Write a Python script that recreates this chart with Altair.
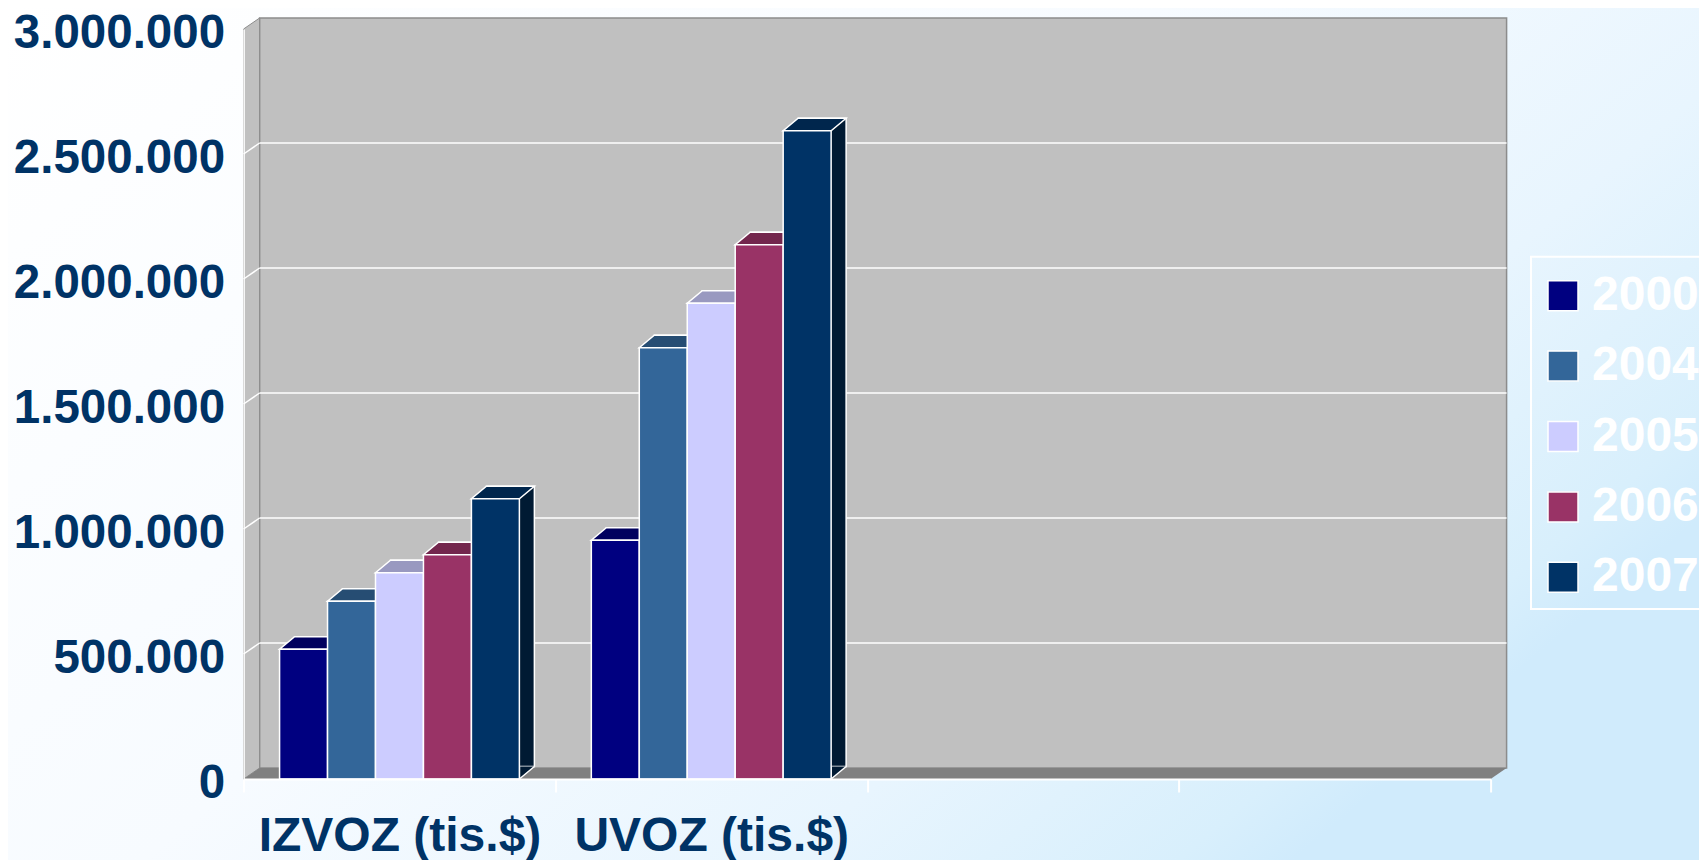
import json
import altair as alt
import pandas as pd

# ---------------- data ----------------
categories = ["IZVOZ (tis.$)", "UVOZ (tis.$)"]
n_slots = 4                      # two empty category slots on the right
years = ["2000.", "2004.", "2005.", "2006.", "2007."]
izvoz = [519000, 711000, 825000, 897000, 1121000]
uvoz = [955000, 1725000, 1903000, 2137000, 2593000]
y_ticks = [0, 500000, 1000000, 1500000, 2000000, 2500000, 3000000]
grid_values = [500000, 1000000, 1500000, 2000000, 2500000]

front_colors = ["#000080", "#336699", "#CCCCFF", "#993366", "#003366"]
top_colors = ["#00005E", "#264D73", "#9999C0", "#73264D", "#00264D"]
side_colors = ["#00004D", "#1A3A59", "#80809F", "#5A1E3D", "#001A33"]

rows = []
for cat, vals in zip(categories, [izvoz, uvoz]):
    for i, (yr, v) in enumerate(zip(years, vals)):
        rows.append({"cat": cat, "year": yr, "value": v,
                     "top": top_colors[i], "side": side_colors[i]})
df = pd.DataFrame(rows)
grid_df = pd.DataFrame({"value": grid_values})
one = pd.DataFrame({"k": [0]})

# ---------------- layout ----------------
FONT = "Liberation Sans"
TEXT = "#003366"
W, H = 1247, 750
PAD_L, PAD_T, PAD_B = 235.6, 21, 81
PAD_R = 1691 - PAD_L - W          # keep the whole svg inside the page body
WALL_DX, WALL_DY = 16, -11
BAR_DX, BAR_DY = 15, -12.5
GROUP = 6.5        # slot units per category (5 bars + gap)
EDGE = 0.75        # gap before first bar in a category
x_max = n_slots * GROUP
unit = W / x_max
r = unit / 2
bar_size = unit ** 2

top_path = (f"M -1 0 L 1 0 L {1 + BAR_DX / r:.4f} {BAR_DY / r:.4f} "
            f"L {-1 + BAR_DX / r:.4f} {BAR_DY / r:.4f} Z")
tri_path = f"M 1 {BAR_DY / r:.4f} L 1 0 L {1 + BAR_DX / r:.4f} {BAR_DY / r:.4f}"

R = 50
side_path = (f"M 0 0 L {WALL_DX / R} {WALL_DY / R} L {WALL_DX / R} {(H + WALL_DY) / R} "
             f"L 0 {H / R} Z")
floor_path = (f"M 0 0 L {W / R} 0 L {(W + WALL_DX) / R} {WALL_DY / R} "
              f"L {WALL_DX / R} {WALL_DY / R} Z")

x_scale = alt.Scale(domain=[0, x_max], nice=False, zero=False)
y_scale = alt.Scale(domain=[0, 3000000], nice=False, zero=True)

label_expr = " : ".join(
    [f"datum.value == {i * GROUP} ? '{c}'" for i, c in enumerate(categories)]) + " : ''"

x_axis = alt.Axis(title=None, values=[i * GROUP for i in range(n_slots + 1)],
                  labelExpr=label_expr, labelOffset=unit * GROUP / 2,
                  labelFont=FONT, labelFontSize=48, labelFontWeight="bold",
                  labelColor=TEXT, labelAngle=0, labelPadding=20, labelLimit=1000,
                  labelOverlap=False, labelFlush=False, labelBound=False,
                  ticks=True, tickColor="white", tickSize=13, tickWidth=2,
                  domain=True, domainColor="white", domainWidth=2, grid=False, zindex=1)
y_axis = alt.Axis(title=None, values=y_ticks,
                  labelExpr="replace(format(datum.value, ','), regexp(',', 'g'), '.')",
                  labelFont=FONT, labelFontSize=47.5, labelFontWeight="bold",
                  labelColor=TEXT, labelPadding=19, labelOffset=4, labelFlush=False,
                  labelLimit=400, labelOverlap=False, ticks=False, domain=True,
                  domainColor="white", domainWidth=1.5, grid=False, zindex=1)

bg = alt.Chart(one).mark_rect(
    fill=alt.Gradient(
        gradient="linear", x1=0, y1=0, x2=1, y2=0.6,
        stops=[alt.GradientStop(color="#FFFFFF", offset=0),
               alt.GradientStop(color="#F7FBFF", offset=0.5),
               alt.GradientStop(color="#E8F5FE", offset=0.78),
               alt.GradientStop(color="#D8EFFC", offset=0.95),
               alt.GradientStop(color="#D0EBFC", offset=1)])
).encode(x=alt.value(-PAD_L), x2=alt.value(W + PAD_R),
         y=alt.value(-PAD_T), y2=alt.value(H + PAD_B))

back_wall = alt.Chart(one).mark_rect(fill="#C0C0C0", stroke="#8C8C8C", strokeWidth=1.5).encode(
    x=alt.value(WALL_DX), x2=alt.value(W + WALL_DX),
    y=alt.value(WALL_DY), y2=alt.value(H + WALL_DY))

side_wall = alt.Chart(one).mark_point(
    shape=side_path, size=(2 * R) ** 2, filled=True, opacity=1,
    fill="#C0C0C0", stroke="#8C8C8C", strokeWidth=1
).encode(x=alt.value(0), y=alt.value(0))

floor = alt.Chart(one).mark_point(
    shape=floor_path, size=(2 * R) ** 2, filled=True, opacity=1,
    fill="#808080", strokeWidth=0
).encode(x=alt.value(0), y=alt.value(H))

grid_back = alt.Chart(grid_df).mark_rule(color="white", strokeWidth=1.5, yOffset=WALL_DY).encode(
    x=alt.value(WALL_DX), x2=alt.value(W + WALL_DX),
    y=alt.Y("value:Q", scale=y_scale))

grid_side = alt.Chart(grid_df).mark_rule(color="white", strokeWidth=1.5, y2Offset=WALL_DY).encode(
    x=alt.value(0), x2=alt.value(WALL_DX),
    y=alt.Y("value:Q", scale=y_scale), y2=alt.Y2("value"))

# legend frame (white border, runs off the right edge like the original)
LEG_X0, LEG_Y0, LEG_Y1 = 1531 - (PAD_L + 8), 256.7 - (PAD_T + 8), 609 - (PAD_T + 8)
legend_box = alt.Chart(one).mark_rect(fillOpacity=0, stroke="white", strokeWidth=2).encode(
    x=alt.value(LEG_X0), x2=alt.value(LEG_X0 + 400),
    y=alt.value(LEG_Y0), y2=alt.value(LEG_Y1))

base = alt.Chart(df).transform_calculate(
    ci=f"indexof({json.dumps(categories)}, datum.cat)",
    yi=f"indexof({json.dumps(years)}, datum.year)",
    zero="0",
).transform_calculate(
    x0=f"datum.ci * {GROUP} + {EDGE} + datum.yi"
).transform_calculate(
    x1="datum.x0 + 1", xc="datum.x0 + 0.5"
)

shadow = base.mark_rect(stroke="white", strokeWidth=1.5,
                        xOffset=BAR_DX, x2Offset=BAR_DX,
                        yOffset=BAR_DY, y2Offset=BAR_DY).encode(
    x=alt.X("x0:Q", scale=x_scale), x2="x1:Q",
    y=alt.Y("value:Q", scale=y_scale), y2="zero:Q",
    fill=alt.Fill("side:N", scale=None))

tri = base.mark_point(shape=tri_path, size=bar_size, filled=True, opacity=1,
                      stroke="white", strokeWidth=1.5).encode(
    x=alt.X("xc:Q", scale=x_scale),
    y=alt.Y("zero:Q", scale=y_scale),
    fill=alt.Fill("side:N", scale=None))

top = base.mark_point(shape=top_path, size=bar_size, filled=True, opacity=1,
                      stroke="white", strokeWidth=1.5).encode(
    x=alt.X("xc:Q", scale=x_scale),
    y=alt.Y("value:Q", scale=y_scale),
    fill=alt.Fill("top:N", scale=None))

front = base.mark_rect(stroke="white", strokeWidth=1.5).encode(
    x=alt.X("x0:Q", scale=x_scale, axis=x_axis), x2="x1:Q",
    y=alt.Y("value:Q", scale=y_scale, axis=y_axis), y2="zero:Q",
    color=alt.Color("year:N", scale=alt.Scale(domain=years, range=front_colors),
                    legend=alt.Legend(orient="none", legendX=LEG_X0,
                                      legendY=LEG_Y0 + 7, title=None,
                                      symbolType="square", symbolSize=900,
                                      symbolStrokeColor="white", symbolStrokeWidth=1.5,
                                      labelFont=FONT, labelFontSize=48,
                                      labelFontWeight="bold", labelColor="white",
                                      rowPadding=22.4, labelOffset=5, padding=8,
                                      labelLimit=400)))

chart = alt.layer(bg, back_wall, side_wall, floor, grid_back, grid_side,
                  legend_box, shadow, tri, top, front).properties(
    width=W, height=H,
    padding={"left": PAD_L, "top": PAD_T, "right": PAD_R, "bottom": PAD_B},
    autosize=alt.AutoSizeParams(type="none"),
    background="white",
).configure_view(strokeWidth=0)

chart.save("out.html", embed_options={"renderer": "svg", "actions": False})
